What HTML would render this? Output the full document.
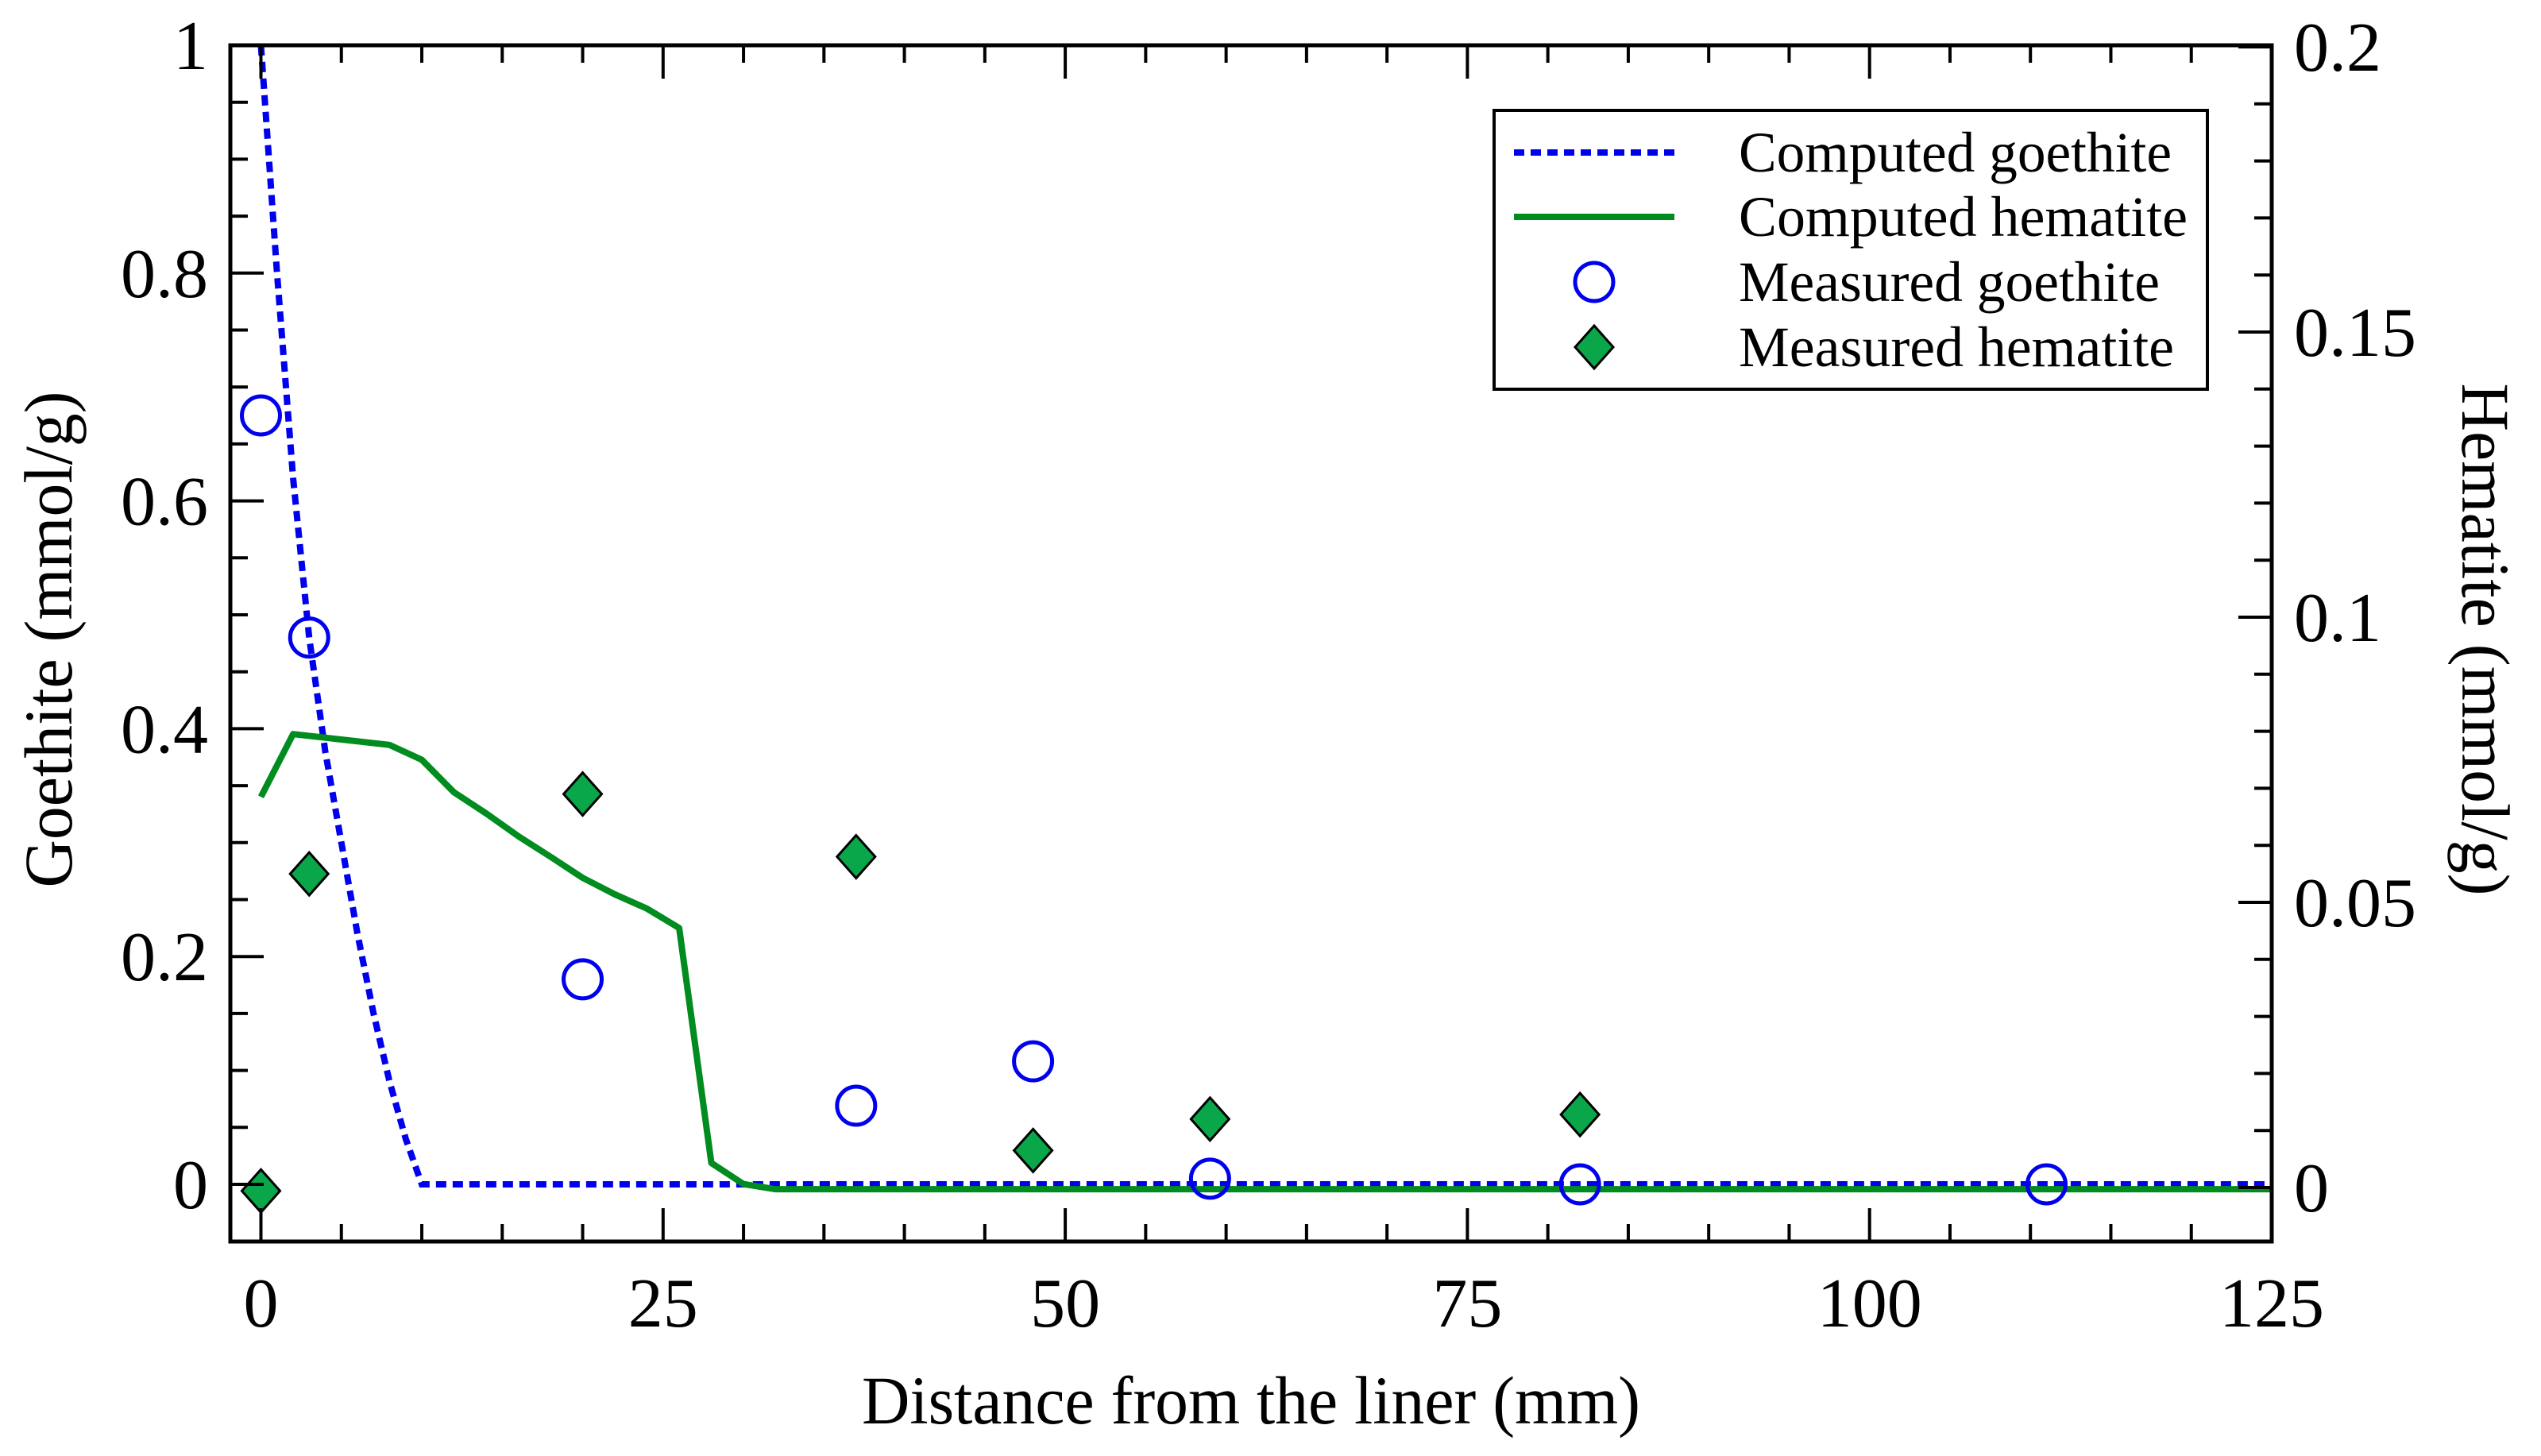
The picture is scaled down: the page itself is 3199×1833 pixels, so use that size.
<!DOCTYPE html>
<html><head><meta charset="utf-8"><style>
html,body{margin:0;padding:0;background:#fff;}
svg{display:block;font-family:"Liberation Serif",serif;}
</style></head><body>
<svg id="chart" width="3199" height="1833" viewBox="0 0 3199 1833" xmlns="http://www.w3.org/2000/svg">
<g id="marks"></g>
<g id="axes"></g>
<g id="legend">
 <rect x="1881" y="139" width="898" height="351" fill="#fff" stroke="#000" stroke-width="4"/>
 <line x1="1906" y1="192" x2="2108" y2="192" stroke="#0000ee" stroke-width="8" stroke-dasharray="13,8"/>
 <text x="2189" y="216" font-size="72" textLength="545" lengthAdjust="spacingAndGlyphs">Computed goethite</text>
 <line x1="1906" y1="273" x2="2108" y2="273" stroke="#008c1e" stroke-width="8"/>
 <text x="2189" y="297" font-size="72" textLength="565" lengthAdjust="spacingAndGlyphs">Computed hematite</text>
 <circle cx="2007" cy="355" r="24" fill="none" stroke="#0000ee" stroke-width="5"/>
 <text x="2189" y="379" font-size="72" textLength="530" lengthAdjust="spacingAndGlyphs">Measured goethite</text>
 <polygon points="2007,410 2031,437 2007,464 1983,437" fill="#0aa64a" stroke="#000" stroke-width="3"/>
 <text x="2189" y="461" font-size="72" textLength="548" lengthAdjust="spacingAndGlyphs">Measured hematite</text>
</g>
</svg>
<script>
const compGoethiteX = [0,1,2,3,4,5,6,7,8,9,10,125];
const compGoethiteY = [1,0.8,0.62,0.48,0.38,0.3,0.22,0.15,0.09,0.04,0,0];
const compHematiteX = [0,2,8,10,12,14,16,18,20,22,24,26,28,30,32,125];
const compHematiteY = [0.0685,0.0795,0.0776,0.075,0.0693,0.0656,0.0616,0.058,0.0543,0.0514,0.0489,0.0455,0.0043,0.0006,-0.0003,-0.0003];
const measGoethiteX = [0,3,20,37,48,59,82,111];
const measGoethiteY = [0.675,0.48,0.18,0.069,0.108,0.005,0.0,0.0];
const measHematiteX = [0,3,20,37,48,59,82];
const measHematiteY = [-0.0006,0.055,0.069,0.058,0.0065,0.012,0.0128];
const xTicks = [0,25,50,75,100,125];
const yLeftTicks = ["0","0.2","0.4","0.6","0.8","1"];
const yRightTicks = ["0","0.05","0.1","0.15","0.2"];

const NS="http://www.w3.org/2000/svg";
const L=290,R=2860,T=57,B=1563;
function sx(v){return 328.5+(v-0)*(2860-328.5)/125;}
function syL(v){return 1491+(57-1491)*v;}
function syR(v){return 1495+(59-1495)*v/0.2;}
const marks=document.getElementById('marks'), axes=document.getElementById('axes');
function mk(tag,attrs,parent){const e=document.createElementNS(NS,tag);for(const k in attrs)e.setAttribute(k,attrs[k]);parent.appendChild(e);return e;}

let p=compGoethiteX.map((x,i)=>sx(x)+','+syL(compGoethiteY[i])).join(' ');
let gl=mk('polyline',{points:p,fill:'none',stroke:'#0000ee','stroke-width':8,'stroke-dasharray':'13,8'},marks);


p=compHematiteX.map((x,i)=>sx(x)+','+syR(compHematiteY[i])).join(' ');
let hl=mk('polyline',{points:p,fill:'none',stroke:'#008c1e','stroke-width':8,'stroke-linejoin':'round'},marks);



measHematiteX.forEach((x,i)=>{const cx=sx(x),cy=syR(measHematiteY[i]);
 const d=mk('polygon',{points:`${cx},${cy-27} ${cx+24},${cy} ${cx},${cy+27} ${cx-24},${cy}`,fill:'#0aa64a',stroke:'#000','stroke-width':3},marks);
 
 
});
measGoethiteX.forEach((x,i)=>{
 const c=mk('circle',{cx:sx(x),cy:syL(measGoethiteY[i]),r:24,fill:'none',stroke:'#0000ee','stroke-width':5},marks);
 
 
});

const fr=mk('rect',{x:L,y:T,width:R-L,height:B-T,fill:'none',stroke:'#000','stroke-width':5},axes);


for(let v=0;v<=125;v+=5){const X=sx(v),len=(v%25===0)?42:22;
 mk('line',{x1:X,y1:B,x2:X,y2:B-len,stroke:'#000','stroke-width':4},axes);
 mk('line',{x1:X,y1:T,x2:X,y2:T+len,stroke:'#000','stroke-width':4},axes);}
xTicks.forEach(v=>{const t=mk('text',{x:sx(v),y:1670,'font-size':88,'text-anchor':'middle'},axes);t.textContent=String(v);
 
 });
for(let k=-1;k<=20;k++){const v=k*0.05;const Y=syL(v);if(Y>B||Y<T-1)continue;const len=(k%4===0)?42:22;
 mk('line',{x1:L,y1:Y,x2:L+len,y2:Y,stroke:'#000','stroke-width':4},axes);}
yLeftTicks.forEach(s=>{const t=mk('text',{x:262,y:syL(parseFloat(s))+30,'font-size':88,'text-anchor':'end'},axes);t.textContent=s;
 
 });
for(let k=0;k<=20;k++){const v=k*0.01;const Y=syR(v);const len=(k%5===0)?42:22;
 mk('line',{x1:R,y1:Y,x2:R-len,y2:Y,stroke:'#000','stroke-width':4},axes);}
yRightTicks.forEach(s=>{const t=mk('text',{x:2888,y:syR(parseFloat(s))+30,'font-size':88,'text-anchor':'start'},axes);t.textContent=s;
 
 });
let t=mk('text',{x:1575,y:1792,'font-size':86,'text-anchor':'middle',textLength:980,lengthAdjust:'spacingAndGlyphs'},axes);t.textContent='Distance from the liner (mm)';


t=mk('text',{x:0,y:0,'font-size':86,'text-anchor':'middle',transform:'translate(90,805) rotate(-90)',textLength:625,lengthAdjust:'spacingAndGlyphs'},axes);t.textContent='Goethite (mmol/g)';


t=mk('text',{x:0,y:0,'font-size':86,'text-anchor':'middle',transform:'translate(3100,805) rotate(90)',textLength:645,lengthAdjust:'spacingAndGlyphs'},axes);t.textContent='Hematite (mmol/g)';


</script>
</body></html>
